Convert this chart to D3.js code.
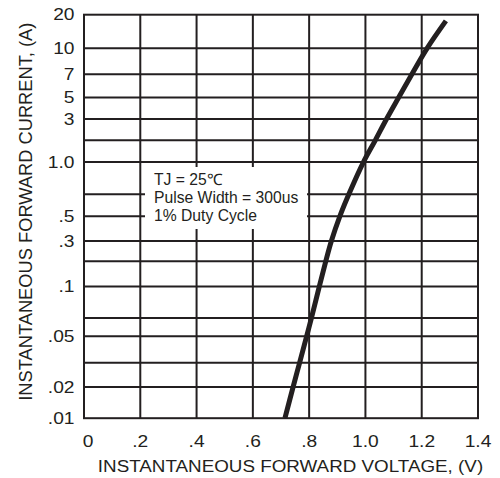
<!DOCTYPE html>
<html>
<head>
<meta charset="utf-8">
<script src="https://cdn.jsdelivr.net/npm/d3@7"></script>
<style>
  html, body { margin: 0; padding: 0; background: #fff; }
  svg { display: block; }
  text { font-family: "Liberation Sans", Arial, Helvetica, sans-serif; fill: #231f20; }
</style>
</head>
<body>
<svg id="chart" width="500" height="478"></svg>
<script>
// ---- data ----
const voltage = [0.714, 0.743, 0.766, 0.791, 0.808, 0.836, 0.859, 0.879, 0.909, 0.941, 0.993, 1.035, 1.075, 1.118, 1.165, 1.219, 1.286];
const current = [0.01, 0.02, 0.03, 0.05, 0.07, 0.1, 0.2, 0.3, 0.5, 0.7, 1, 2, 3, 5, 7, 10, 17.6];

const xTickValues = [0, 0.2, 0.4, 0.6, 0.8, 1.0, 1.2, 1.4];
const xTickLabels = ["0", ".2", ".4", ".6", ".8", "1.0", "1.2", "1.4"];

const yTickValues = [20, 10, 7, 5, 3, 1, 0.5, 0.3, 0.1, 0.05, 0.02, 0.01];
const yTickLabels = ["20", "10", "7", "5", "3", "1.0", ".5", ".3", ".1", ".05", ".02", ".01"];

const yGridValues = [20, 10, 7, 5, 3, 2, 1, 0.7, 0.5, 0.3, 0.2, 0.1, 0.07, 0.05, 0.03, 0.02, 0.01];

const xTitle = "INSTANTANEOUS FORWARD VOLTAGE, (V)";
const yTitle = "INSTANTANEOUS FORWARD CURRENT, (A)";
const noteLines = ["TJ = 25\u2103", "Pulse Width = 300us", "1% Duty Cycle"];

// ---- layout ----
const L = 84, R = 478, T = 14.7, B = 418.2;
// the printed log grid is not evenly spaced; relative row positions of each grid line
const gridFrac = [0, 0.0833, 0.1475, 0.2052, 0.2585, 0.3113, 0.3651, 0.4449, 0.4996, 0.5608, 0.6112, 0.6739, 0.7517, 0.7970, 0.8627, 0.9227, 1];
const ink = "#231f20";

const svg = d3.select("#chart");

const x = d3.scaleLinear().domain([0, 1.4]).range([L, R]);
const yl = d3.scaleLinear()
  .domain(yGridValues.map(v => Math.log10(v)))
  .range(gridFrac.map(f => T + f * (B - T)));
const y = v => yl(Math.log10(v));

// grid
const g = svg.append("g");
g.selectAll("line.h").data(yGridValues.slice(1, -1)).join("line")
  .attr("x1", L).attr("x2", R)
  .attr("y1", d => y(d)).attr("y2", d => y(d))
  .attr("stroke", ink).attr("stroke-width", 2);
g.selectAll("line.v").data(xTickValues.slice(1, -1)).join("line")
  .attr("y1", T).attr("y2", B)
  .attr("x1", d => x(d)).attr("x2", d => x(d))
  .attr("stroke", ink).attr("stroke-width", 2);
svg.append("rect")
  .attr("x", L).attr("y", T).attr("width", R - L).attr("height", B - T)
  .attr("fill", "none").attr("stroke", ink).attr("stroke-width", 2);

// annotation box
svg.append("rect").attr("x", 145).attr("y", 167).attr("width", 162).attr("height", 62).attr("fill", "#fff");
svg.append("g").selectAll("text").data(noteLines).join("text")
  .attr("x", 154).attr("y", (d, i) => 185 + i * 18)
  .attr("font-size", "15.7px")
  .text(d => d);

// y tick labels
svg.append("g").selectAll("text").data(yTickValues).join("text")
  .attr("transform", d => `translate(74.5,${y(d)}) scale(1.2,1)`)
  .attr("dy", "0.36em")
  .attr("text-anchor", "end")
  .attr("font-size", "16px")
  .text((d, i) => yTickLabels[i]);

// x tick labels
svg.append("g").selectAll("text").data(xTickValues).join("text")
  .attr("transform", d => `translate(${x(d) + (d === 0 ? 4 : 0)},446.7) scale(1.2,1)`)
  .attr("text-anchor", "middle")
  .attr("font-size", "16px")
  .text((d, i) => xTickLabels[i]);

// axis titles
svg.append("text")
  .attr("transform", "translate(290.5,471.7) scale(1.155,1)")
  .attr("text-anchor", "middle")
  .attr("font-size", "16.3px")
  .text(xTitle);
svg.append("text")
  .attr("transform", "translate(31.5,211.7) rotate(-90)")
  .attr("text-anchor", "middle")
  .attr("font-size", "18.3px")
  .text(yTitle);

// curve
const line = d3.line()
  .x((d, i) => x(voltage[i]))
  .y((d, i) => y(current[i]))
  .curve(d3.curveCatmullRom.alpha(0.5));
svg.append("path")
  .datum(current)
  .attr("d", line)
  .attr("fill", "none")
  .attr("stroke", ink)
  .attr("stroke-width", 5);
</script>
</body>
</html>
